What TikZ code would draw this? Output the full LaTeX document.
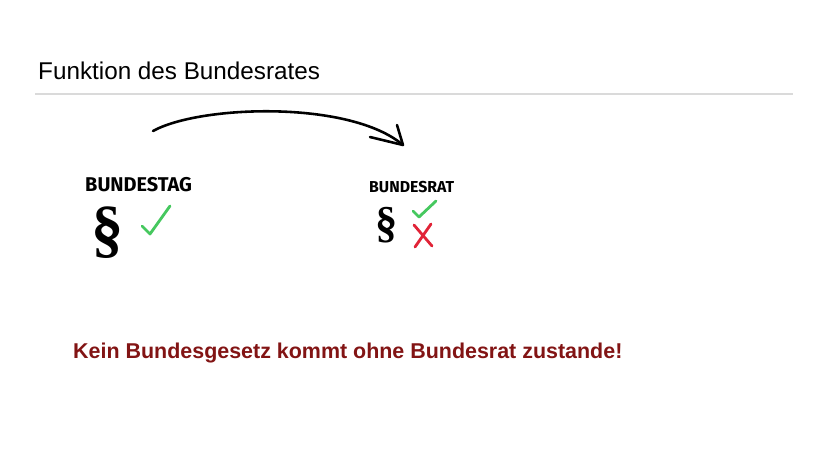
\documentclass[tikz,border=0pt]{standalone}
\usepackage{fontspec}
\usetikzlibrary{calc}
\setmainfont{Liberation Sans}
\newfontfamily\serifsym{Liberation Serif}
\newfontfamily\markerfont{Fira Sans}
\definecolor{lawred}{RGB}{130,20,20}
\definecolor{okgreen}{RGB}{70,200,95}
\definecolor{nored}{RGB}{225,35,55}
\definecolor{rulegray}{RGB}{218,218,218}
\begin{document}
\begin{tikzpicture}[x=0.03cm,y=-0.03cm,
      organ/.style={anchor=base west,inner sep=0pt,font=\markerfont\bfseries},
      para/.style={inner sep=0pt,font=\serifsym\bfseries},
      tick/.style={okgreen,line width=2.4pt,line cap=round,line join=round},
      cross/.style={nored,line width=2.4pt,line cap=round}]
   \useasboundingbox (0,0) rectangle (828,466);
   \node[anchor=base west,inner sep=0pt,font=\fontsize{20.7}{24}\selectfont] (title) at (38,79) {Funktion des Bundesrates};
   \draw[rulegray,line width=0.9pt] (35,94) -- (793,94);
   \node[organ,font=\markerfont\bfseries\fontsize{17}{20}\selectfont] (tag) at (85,191) {BUNDESTAG};
   \node[organ,font=\markerfont\bfseries\fontsize{13.5}{16}\selectfont] (rat) at (369,192) {BUNDESRAT};
   \node[para,font=\serifsym\bfseries\fontsize{55}{58}\selectfont] (tagpar) at (108,233) {§};
   \node[para,font=\serifsym\bfseries\fontsize{38}{40}\selectfont] (ratpar) at (387,225) {§};
   \draw[tick] (142,226) -- (150,234) -- (170,206);
   \draw[tick] (413,211) -- (419,217) -- (436,201);
   \draw[cross] (414,225) -- (432,246);
   \draw[cross] (431,224) -- (415,247);
   \coordinate (from) at (153,131);
   \coordinate (to) at (403,145);
   \draw[line width=2.2pt,line cap=round] (from) .. controls (200,105) and (350,100) .. (to);
   \draw[line width=2.2pt,line cap=round,line join=round] ($(to)+(-33,-8)$) -- (to) -- ($(to)+(-6,-20)$);
   \node[anchor=base west,inner sep=0pt,text=lawred,font=\bfseries\fontsize{18.3}{22}\selectfont] (claim) at (73,358) {Kein Bundesgesetz kommt ohne Bundesrat zustande!};
\end{tikzpicture}
\end{document}
